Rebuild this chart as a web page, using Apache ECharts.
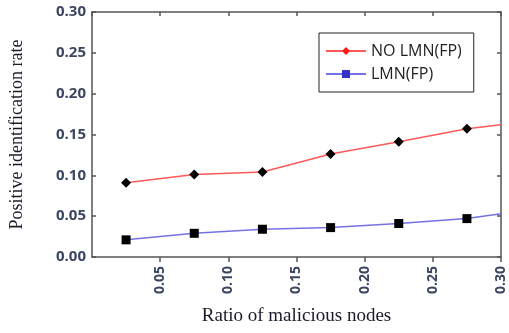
<!DOCTYPE html>
<html><head><meta charset="utf-8">
<script src="https://cdn.jsdelivr.net/npm/echarts@6/dist/echarts.min.js"></script>
<style>html,body{margin:0;padding:0;background:#fff}#c{width:509px;height:333px}</style>
</head><body><div id="c"></div>
<script>
const xValues = [0.025, 0.075, 0.125, 0.175, 0.225, 0.275, 0.30];
const noLmn = [0.091, 0.101, 0.104, 0.126, 0.141, 0.157, 0.162];
const lmn = [0.021, 0.029, 0.034, 0.036, 0.041, 0.047, 0.053];
const seriesNames = ['NO LMN(FP)', 'LMN(FP)'];
const tickColor = '#3d4660';
const axisCol = '#555';

function mk(vals){
  return vals.map((v,i)=> i===vals.length-1 ? {value:[xValues[i],v], symbol:'none'} : [xValues[i],v]);
}
const chart = echarts.init(document.getElementById('c'));
chart.setOption({
  animation:false,
  grid:{left:87, top:12, right:8, bottom:76},
  legend:{
    left:319, top:33, orient:'vertical', itemWidth:40, itemHeight:10, itemGap:7,
    padding:[10,12,10,6], borderColor:'#222', borderWidth:1, backgroundColor:'#fff',
    textStyle:{fontFamily:'Open Sans', fontSize:16, color:'#222'},
    data:[{name:seriesNames[0], itemStyle:{color:'#ff1a1a'}}, {name:seriesNames[1], itemStyle:{color:'#3333cc'}}]
  },
  xAxis:[{
    type:'value', min:0, max:0.30, interval:0.05,
    name:'Ratio of malicious nodes', nameLocation:'middle', nameGap:50,
    nameTextStyle:{fontFamily:'Liberation Serif', fontSize:19, color:'#1a1a2a'},
    axisLine:{onZero:false, lineStyle:{color:axisCol, width:1.5}},
    axisTick:{inside:false, length:5, lineStyle:{color:axisCol, width:1.5}},
    axisLabel:{rotate:90, showMinLabel:false, fontFamily:'Open Sans', fontWeight:'bold', fontSize:14, color:tickColor, margin:9,
      formatter:v=>v.toFixed(2)},
    splitLine:{show:false}
  },{
    type:'value', position:'top', min:0, max:0.30, interval:0.05,
    axisLine:{show:true, onZero:false, lineStyle:{color:axisCol, width:1.5}},
    axisTick:{inside:true, length:4, lineStyle:{color:axisCol, width:1.5}},
    axisLabel:{show:false}, splitLine:{show:false}
  }],
  yAxis:[{
    type:'value', min:0, max:0.30, interval:0.05,
    name:'Positive identification rate', nameLocation:'middle', nameGap:66,
    nameTextStyle:{fontFamily:'Liberation Serif', fontSize:18, color:'#1a1a2a'},
    axisLine:{show:true, onZero:false, lineStyle:{color:axisCol, width:1.5}},
    axisTick:{show:true, inside:true, length:4, lineStyle:{color:axisCol, width:1.5}},
    axisLabel:{fontFamily:'Open Sans', fontWeight:'bold', fontSize:15, color:tickColor, margin:6,
      formatter:v=>v.toFixed(2)},
    splitLine:{show:false}
  },{
    type:'value', position:'right', min:0, max:0.30, interval:0.05,
    axisLine:{show:true, onZero:false, lineStyle:{color:axisCol, width:1.5}},
    axisTick:{show:true, inside:true, length:4, lineStyle:{color:axisCol, width:1.5}},
    axisLabel:{show:false}, splitLine:{show:false}
  }],
  series:[{
    name:seriesNames[0], type:'line', data:mk(noLmn),
    symbol:'diamond', symbolSize:10,
    lineStyle:{color:'#ff5a5a', width:1.5},
    itemStyle:{color:'#000'}
  },{
    name:seriesNames[1], type:'line', data:mk(lmn),
    symbol:'rect', symbolSize:9,
    lineStyle:{color:'#7272e6', width:1.5},
    itemStyle:{color:'#000'}
  }]
});
</script></body></html>
